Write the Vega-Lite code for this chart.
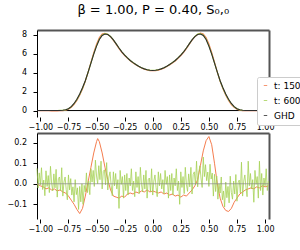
{
"$schema": "https://vega.github.io/schema/vega-lite/v6.json",
"padding": {"left": 7, "top": 4, "right": 0, "bottom": 0},
"title": {"text": "β = 1.00, P = 0.40,  S₀,₀", "fontSize": 13, "font": "DejaVu Sans", "fontWeight": "normal", "color": "black", "anchor": "middle", "offset": 3, "baseline": "alphabetic", "dx": -3},
"config": {
  "font": "DejaVu Sans",
  "view": {"stroke": null},
  "axis": {"labelFont": "DejaVu Sans", "labelFontSize": 8, "labelColor": "black", "tickColor": "black", "tickSize": 4, "domainColor": "black", "grid": false, "title": null, "labelFlush": false, "labelOverlap": false},
  "legend": {"orient": "none", "legendX": 220, "legendY": 47, "symbolType": "stroke", "symbolSize": 12, "symbolStrokeWidth": 1, "labelFontSize": 9, "labelFont": "DejaVu Sans", "labelColor": "black", "padding": 4, "rowPadding": 5, "labelOffset": 4, "strokeColor": "#cccccc", "fillColor": "white", "cornerRadius": 2, "title": null}
},
"spacing": 16,
"bounds": "flush",
"datasets": {
"top": [
{"x":-1.03,"t: 150":0,"t: 600":0,"GHD":0},
{"x":-1.0,"t: 150":-0.01,"t: 600":0.01,"GHD":0},
{"x":-0.975,"t: 150":-0.015,"t: 600":0.01,"GHD":0},
{"x":-0.95,"t: 150":-0.025,"t: 600":0.01,"GHD":0},
{"x":-0.925,"t: 150":-0.02,"t: 600":0.01,"GHD":0},
{"x":-0.9,"t: 150":-0.03,"t: 600":0.01,"GHD":0},
{"x":-0.875,"t: 150":-0.025,"t: 600":0.01,"GHD":0},
{"x":-0.85,"t: 150":-0.035,"t: 600":0.01,"GHD":0},
{"x":-0.825,"t: 150":-0.02,"t: 600":0.02,"GHD":0.01},
{"x":-0.8,"t: 150":-0.01,"t: 600":0.03,"GHD":0.03},
{"x":-0.775,"t: 150":0.035,"t: 600":0.075,"GHD":0.08},
{"x":-0.75,"t: 150":0.14,"t: 600":0.19,"GHD":0.2},
{"x":-0.725,"t: 150":0.34,"t: 600":0.4,"GHD":0.42},
{"x":-0.7,"t: 150":0.65,"t: 600":0.715,"GHD":0.75},
{"x":-0.675,"t: 150":1.075,"t: 600":1.155,"GHD":1.2},
{"x":-0.65,"t: 150":1.605,"t: 600":1.7,"GHD":1.75},
{"x":-0.625,"t: 150":2.28,"t: 600":2.36,"GHD":2.4},
{"x":-0.6,"t: 150":3.09,"t: 600":3.125,"GHD":3.15},
{"x":-0.575,"t: 150":4.06,"t: 600":4.045,"GHD":4.05},
{"x":-0.55,"t: 150":5.08,"t: 600":5.02,"GHD":5.0},
{"x":-0.525,"t: 150":6.1,"t: 600":5.98,"GHD":5.95},
{"x":-0.5,"t: 150":7.005,"t: 600":6.845,"GHD":6.8},
{"x":-0.475,"t: 150":7.705,"t: 600":7.55,"GHD":7.5},
{"x":-0.45,"t: 150":8.07,"t: 600":7.97,"GHD":7.92},
{"x":-0.425,"t: 150":8.16,"t: 600":8.12,"GHD":8.08},
{"x":-0.4,"t: 150":8.04,"t: 600":8.05,"GHD":8.02},
{"x":-0.375,"t: 150":7.77,"t: 600":7.82,"GHD":7.8},
{"x":-0.35,"t: 150":7.39,"t: 600":7.46,"GHD":7.45},
{"x":-0.325,"t: 150":6.965,"t: 600":7.035,"GHD":7.03},
{"x":-0.3,"t: 150":6.53,"t: 600":6.605,"GHD":6.6},
{"x":-0.275,"t: 150":6.14,"t: 600":6.205,"GHD":6.2},
{"x":-0.25,"t: 150":5.795,"t: 600":5.865,"GHD":5.86},
{"x":-0.225,"t: 150":5.5,"t: 600":5.555,"GHD":5.55},
{"x":-0.2,"t: 150":5.235,"t: 600":5.285,"GHD":5.28},
{"x":-0.175,"t: 150":5.01,"t: 600":5.065,"GHD":5.06},
{"x":-0.15,"t: 150":4.82,"t: 600":4.865,"GHD":4.86},
{"x":-0.125,"t: 150":4.635,"t: 600":4.685,"GHD":4.68},
{"x":-0.1,"t: 150":4.485,"t: 600":4.525,"GHD":4.52},
{"x":-0.075,"t: 150":4.36,"t: 600":4.405,"GHD":4.4},
{"x":-0.05,"t: 150":4.28,"t: 600":4.315,"GHD":4.31},
{"x":-0.025,"t: 150":4.21,"t: 600":4.255,"GHD":4.25},
{"x":0,"t: 150":4.195,"t: 600":4.235,"GHD":4.23},
{"x":0.025,"t: 150":4.21,"t: 600":4.255,"GHD":4.25},
{"x":0.05,"t: 150":4.265,"t: 600":4.315,"GHD":4.31},
{"x":0.075,"t: 150":4.36,"t: 600":4.405,"GHD":4.4},
{"x":0.1,"t: 150":4.47,"t: 600":4.525,"GHD":4.52},
{"x":0.125,"t: 150":4.635,"t: 600":4.685,"GHD":4.68},
{"x":0.15,"t: 150":4.805,"t: 600":4.865,"GHD":4.86},
{"x":0.175,"t: 150":5.01,"t: 600":5.065,"GHD":5.06},
{"x":0.2,"t: 150":5.22,"t: 600":5.285,"GHD":5.28},
{"x":0.225,"t: 150":5.495,"t: 600":5.555,"GHD":5.55},
{"x":0.25,"t: 150":5.795,"t: 600":5.865,"GHD":5.86},
{"x":0.275,"t: 150":6.145,"t: 600":6.205,"GHD":6.2},
{"x":0.3,"t: 150":6.54,"t: 600":6.605,"GHD":6.6},
{"x":0.325,"t: 150":6.985,"t: 600":7.04,"GHD":7.03},
{"x":0.35,"t: 150":7.42,"t: 600":7.47,"GHD":7.45},
{"x":0.375,"t: 150":7.79,"t: 600":7.835,"GHD":7.8},
{"x":0.4,"t: 150":8.04,"t: 600":8.065,"GHD":8.02},
{"x":0.425,"t: 150":8.17,"t: 600":8.13,"GHD":8.08},
{"x":0.45,"t: 150":8.08,"t: 600":7.97,"GHD":7.92},
{"x":0.475,"t: 150":7.71,"t: 600":7.55,"GHD":7.5},
{"x":0.5,"t: 150":7.03,"t: 600":6.84,"GHD":6.8},
{"x":0.525,"t: 150":6.14,"t: 600":5.98,"GHD":5.95},
{"x":0.55,"t: 150":5.1,"t: 600":5.01,"GHD":5.0},
{"x":0.575,"t: 150":4.05,"t: 600":4.05,"GHD":4.05},
{"x":0.6,"t: 150":3.08,"t: 600":3.12,"GHD":3.15},
{"x":0.625,"t: 150":2.29,"t: 600":2.36,"GHD":2.4},
{"x":0.65,"t: 150":1.62,"t: 600":1.705,"GHD":1.75},
{"x":0.675,"t: 150":1.065,"t: 600":1.155,"GHD":1.2},
{"x":0.7,"t: 150":0.63,"t: 600":0.715,"GHD":0.75},
{"x":0.725,"t: 150":0.33,"t: 600":0.395,"GHD":0.42},
{"x":0.75,"t: 150":0.13,"t: 600":0.19,"GHD":0.2},
{"x":0.775,"t: 150":0.03,"t: 600":0.075,"GHD":0.08},
{"x":0.8,"t: 150":-0.01,"t: 600":0.03,"GHD":0.03},
{"x":0.825,"t: 150":-0.02,"t: 600":0.01,"GHD":0.01},
{"x":0.85,"t: 150":-0.025,"t: 600":0.005,"GHD":0},
{"x":0.875,"t: 150":-0.02,"t: 600":0.005,"GHD":0},
{"x":0.9,"t: 150":-0.025,"t: 600":0.005,"GHD":0},
{"x":0.925,"t: 150":-0.015,"t: 600":0.005,"GHD":0},
{"x":0.95,"t: 150":-0.02,"t: 600":0.005,"GHD":0},
{"x":0.975,"t: 150":-0.01,"t: 600":0.005,"GHD":0},
{"x":1.0,"t: 150":-0.015,"t: 600":0.005,"GHD":0},
{"x":1.03,"t: 150":-0.01,"t: 600":0.005,"GHD":0}
],
"d150": [
{"x":-1.03,"y":0.0,"s":"t: 150"},{"x":-1.0,"y":-0.01,"s":"t: 150"},{"x":-0.975,"y":-0.015,"s":"t: 150"},{"x":-0.95,"y":-0.025,"s":"t: 150"},{"x":-0.925,"y":-0.02,"s":"t: 150"},{"x":-0.9,"y":-0.03,"s":"t: 150"},{"x":-0.875,"y":-0.025,"s":"t: 150"},{"x":-0.85,"y":-0.035,"s":"t: 150"},{"x":-0.825,"y":-0.03,"s":"t: 150"},{"x":-0.8,"y":-0.04,"s":"t: 150"},{"x":-0.775,"y":-0.045,"s":"t: 150"},{"x":-0.75,"y":-0.06,"s":"t: 150"},{"x":-0.725,"y":-0.08,"s":"t: 150"},{"x":-0.7,"y":-0.1,"s":"t: 150"},{"x":-0.675,"y":-0.125,"s":"t: 150"},{"x":-0.65,"y":-0.145,"s":"t: 150"},{"x":-0.625,"y":-0.12,"s":"t: 150"},{"x":-0.6,"y":-0.06,"s":"t: 150"},{"x":-0.575,"y":0.01,"s":"t: 150"},{"x":-0.55,"y":0.08,"s":"t: 150"},{"x":-0.525,"y":0.15,"s":"t: 150"},{"x":-0.5,"y":0.205,"s":"t: 150"},{"x":-0.49,"y":0.22,"s":"t: 150"},{"x":-0.475,"y":0.205,"s":"t: 150"},{"x":-0.45,"y":0.15,"s":"t: 150"},{"x":-0.425,"y":0.08,"s":"t: 150"},{"x":-0.4,"y":0.02,"s":"t: 150"},{"x":-0.375,"y":-0.03,"s":"t: 150"},{"x":-0.35,"y":-0.06,"s":"t: 150"},{"x":-0.325,"y":-0.065,"s":"t: 150"},{"x":-0.3,"y":-0.07,"s":"t: 150"},{"x":-0.275,"y":-0.06,"s":"t: 150"},{"x":-0.25,"y":-0.065,"s":"t: 150"},{"x":-0.225,"y":-0.05,"s":"t: 150"},{"x":-0.2,"y":-0.045,"s":"t: 150"},{"x":-0.175,"y":-0.05,"s":"t: 150"},{"x":-0.15,"y":-0.04,"s":"t: 150"},{"x":-0.125,"y":-0.045,"s":"t: 150"},{"x":-0.1,"y":-0.035,"s":"t: 150"},{"x":-0.075,"y":-0.04,"s":"t: 150"},{"x":-0.05,"y":-0.03,"s":"t: 150"},{"x":-0.025,"y":-0.04,"s":"t: 150"},{"x":0,"y":-0.035,"s":"t: 150"},{"x":0.025,"y":-0.04,"s":"t: 150"},{"x":0.05,"y":-0.045,"s":"t: 150"},{"x":0.075,"y":-0.04,"s":"t: 150"},{"x":0.1,"y":-0.05,"s":"t: 150"},{"x":0.125,"y":-0.045,"s":"t: 150"},{"x":0.15,"y":-0.055,"s":"t: 150"},{"x":0.175,"y":-0.05,"s":"t: 150"},{"x":0.2,"y":-0.06,"s":"t: 150"},{"x":0.225,"y":-0.055,"s":"t: 150"},{"x":0.25,"y":-0.065,"s":"t: 150"},{"x":0.275,"y":-0.055,"s":"t: 150"},{"x":0.3,"y":-0.06,"s":"t: 150"},{"x":0.325,"y":-0.045,"s":"t: 150"},{"x":0.35,"y":-0.03,"s":"t: 150"},{"x":0.375,"y":-0.01,"s":"t: 150"},{"x":0.4,"y":0.02,"s":"t: 150"},{"x":0.425,"y":0.09,"s":"t: 150"},{"x":0.45,"y":0.16,"s":"t: 150"},{"x":0.475,"y":0.21,"s":"t: 150"},{"x":0.5,"y":0.23,"s":"t: 150"},{"x":0.525,"y":0.19,"s":"t: 150"},{"x":0.55,"y":0.1,"s":"t: 150"},{"x":0.575,"y":0.0,"s":"t: 150"},{"x":0.6,"y":-0.07,"s":"t: 150"},{"x":0.625,"y":-0.11,"s":"t: 150"},{"x":0.65,"y":-0.13,"s":"t: 150"},{"x":0.675,"y":-0.135,"s":"t: 150"},{"x":0.7,"y":-0.12,"s":"t: 150"},{"x":0.725,"y":-0.09,"s":"t: 150"},{"x":0.75,"y":-0.07,"s":"t: 150"},{"x":0.775,"y":-0.05,"s":"t: 150"},{"x":0.8,"y":-0.04,"s":"t: 150"},{"x":0.825,"y":-0.03,"s":"t: 150"},{"x":0.85,"y":-0.025,"s":"t: 150"},{"x":0.875,"y":-0.02,"s":"t: 150"},{"x":0.9,"y":-0.025,"s":"t: 150"},{"x":0.925,"y":-0.015,"s":"t: 150"},{"x":0.95,"y":-0.02,"s":"t: 150"},{"x":0.975,"y":-0.01,"s":"t: 150"},{"x":1.0,"y":-0.015,"s":"t: 150"},{"x":1.03,"y":-0.01,"s":"t: 150"}
],
"d600": [
{"x":-1.03,"y":0.075,"s":"t: 600"},{"x":-1.02,"y":-0.02,"s":"t: 600"},{"x":-1.01,"y":0.053,"s":"t: 600"},{"x":-1.0,"y":-0.005,"s":"t: 600"},{"x":-0.99,"y":0.078,"s":"t: 600"},{"x":-0.98,"y":-0.028,"s":"t: 600"},{"x":-0.97,"y":0.018,"s":"t: 600"},{"x":-0.96,"y":-0.058,"s":"t: 600"},{"x":-0.95,"y":0.063,"s":"t: 600"},{"x":-0.94,"y":-0.013,"s":"t: 600"},
{"x":-0.93,"y":0.04,"s":"t: 600"},{"x":-0.92,"y":-0.043,"s":"t: 600"},{"x":-0.91,"y":0.085,"s":"t: 600"},{"x":-0.9,"y":0.003,"s":"t: 600"},{"x":-0.89,"y":-0.035,"s":"t: 600"},{"x":-0.88,"y":0.048,"s":"t: 600"},{"x":-0.87,"y":-0.02,"s":"t: 600"},{"x":-0.86,"y":0.07,"s":"t: 600"},{"x":-0.85,"y":-0.065,"s":"t: 600"},{"x":-0.84,"y":0.025,"s":"t: 600"},
{"x":-0.83,"y":0.033,"s":"t: 600"},{"x":-0.82,"y":-0.035,"s":"t: 600"},{"x":-0.81,"y":0.078,"s":"t: 600"},{"x":-0.8,"y":-0.06,"s":"t: 600"},{"x":-0.79,"y":0.008,"s":"t: 600"},{"x":-0.78,"y":0.033,"s":"t: 600"},{"x":-0.77,"y":-0.028,"s":"t: 600"},{"x":-0.76,"y":-0.078,"s":"t: 600"},{"x":-0.75,"y":0.043,"s":"t: 600"},{"x":-0.74,"y":-0.03,"s":"t: 600"},
{"x":-0.73,"y":0.025,"s":"t: 600"},{"x":-0.72,"y":-0.055,"s":"t: 600"},{"x":-0.71,"y":-0.015,"s":"t: 600"},{"x":-0.7,"y":-0.088,"s":"t: 600"},{"x":-0.69,"y":0.02,"s":"t: 600"},{"x":-0.68,"y":-0.053,"s":"t: 600"},{"x":-0.67,"y":-0.02,"s":"t: 600"},{"x":-0.66,"y":-0.125,"s":"t: 600"},{"x":-0.65,"y":-0.013,"s":"t: 600"},{"x":-0.64,"y":-0.088,"s":"t: 600"},
{"x":-0.63,"y":0.0,"s":"t: 600"},{"x":-0.62,"y":-0.1,"s":"t: 600"},{"x":-0.61,"y":-0.008,"s":"t: 600"},{"x":-0.6,"y":-0.04,"s":"t: 600"},{"x":-0.59,"y":0.053,"s":"t: 600"},{"x":-0.58,"y":-0.043,"s":"t: 600"},{"x":-0.57,"y":0.013,"s":"t: 600"},{"x":-0.56,"y":-0.053,"s":"t: 600"},{"x":-0.55,"y":0.073,"s":"t: 600"},{"x":-0.54,"y":0.008,"s":"t: 600"},
{"x":-0.53,"y":0.065,"s":"t: 600"},{"x":-0.52,"y":-0.013,"s":"t: 600"},{"x":-0.51,"y":0.115,"s":"t: 600"},{"x":-0.5,"y":0.038,"s":"t: 600"},{"x":-0.49,"y":0.0,"s":"t: 600"},{"x":-0.48,"y":0.088,"s":"t: 600"},{"x":-0.47,"y":0.02,"s":"t: 600"},{"x":-0.46,"y":0.11,"s":"t: 600"},{"x":-0.45,"y":-0.025,"s":"t: 600"},{"x":-0.44,"y":0.06,"s":"t: 600"},
{"x":-0.43,"y":0.068,"s":"t: 600"},{"x":-0.42,"y":-0.005,"s":"t: 600"},{"x":-0.41,"y":0.103,"s":"t: 600"},{"x":-0.4,"y":-0.03,"s":"t: 600"},{"x":-0.39,"y":0.033,"s":"t: 600"},{"x":-0.38,"y":0.058,"s":"t: 600"},{"x":-0.37,"y":-0.008,"s":"t: 600"},{"x":-0.36,"y":-0.058,"s":"t: 600"},{"x":-0.35,"y":0.058,"s":"t: 600"},{"x":-0.34,"y":-0.01,"s":"t: 600"},
{"x":-0.33,"y":0.05,"s":"t: 600"},{"x":-0.32,"y":-0.025,"s":"t: 600"},{"x":-0.31,"y":0.02,"s":"t: 600"},{"x":-0.3,"y":-0.12,"s":"t: 600"},{"x":-0.29,"y":0.065,"s":"t: 600"},{"x":-0.28,"y":-0.003,"s":"t: 600"},{"x":-0.27,"y":0.035,"s":"t: 600"},{"x":-0.26,"y":-0.07,"s":"t: 600"},{"x":-0.25,"y":0.043,"s":"t: 600"},{"x":-0.24,"y":-0.033,"s":"t: 600"},
{"x":-0.23,"y":0.05,"s":"t: 600"},{"x":-0.22,"y":-0.055,"s":"t: 600"},{"x":-0.21,"y":0.028,"s":"t: 600"},{"x":-0.2,"y":-0.01,"s":"t: 600"},{"x":-0.19,"y":0.073,"s":"t: 600"},{"x":-0.18,"y":-0.033,"s":"t: 600"},{"x":-0.17,"y":0.013,"s":"t: 600"},{"x":-0.16,"y":-0.063,"s":"t: 600"},{"x":-0.15,"y":0.058,"s":"t: 600"},{"x":-0.14,"y":-0.018,"s":"t: 600"},
{"x":-0.13,"y":0.035,"s":"t: 600"},{"x":-0.12,"y":-0.048,"s":"t: 600"},{"x":-0.11,"y":0.08,"s":"t: 600"},{"x":-0.1,"y":-0.003,"s":"t: 600"},{"x":-0.09,"y":-0.04,"s":"t: 600"},{"x":-0.08,"y":0.043,"s":"t: 600"},{"x":-0.07,"y":-0.025,"s":"t: 600"},{"x":-0.06,"y":0.065,"s":"t: 600"},{"x":-0.05,"y":-0.07,"s":"t: 600"},{"x":-0.04,"y":0.02,"s":"t: 600"},
{"x":-0.03,"y":0.028,"s":"t: 600"},{"x":-0.02,"y":-0.04,"s":"t: 600"},{"x":-0.01,"y":0.073,"s":"t: 600"},{"x":0.0,"y":-0.055,"s":"t: 600"},{"x":0.01,"y":0.013,"s":"t: 600"},{"x":0.02,"y":0.043,"s":"t: 600"},{"x":0.03,"y":-0.018,"s":"t: 600"},{"x":0.04,"y":-0.063,"s":"t: 600"},{"x":0.05,"y":0.058,"s":"t: 600"},{"x":0.06,"y":-0.01,"s":"t: 600"},
{"x":0.07,"y":0.05,"s":"t: 600"},{"x":0.08,"y":-0.025,"s":"t: 600"},{"x":0.09,"y":0.02,"s":"t: 600"},{"x":0.1,"y":-0.048,"s":"t: 600"},{"x":0.11,"y":0.065,"s":"t: 600"},{"x":0.12,"y":-0.003,"s":"t: 600"},{"x":0.13,"y":0.035,"s":"t: 600"},{"x":0.14,"y":-0.07,"s":"t: 600"},{"x":0.15,"y":0.043,"s":"t: 600"},{"x":0.16,"y":-0.033,"s":"t: 600"},
{"x":0.17,"y":0.05,"s":"t: 600"},{"x":0.18,"y":-0.055,"s":"t: 600"},{"x":0.19,"y":0.028,"s":"t: 600"},{"x":0.2,"y":-0.01,"s":"t: 600"},{"x":0.21,"y":0.073,"s":"t: 600"},{"x":0.22,"y":-0.033,"s":"t: 600"},{"x":0.23,"y":0.013,"s":"t: 600"},{"x":0.24,"y":-0.1,"s":"t: 600"},{"x":0.25,"y":0.058,"s":"t: 600"},{"x":0.26,"y":-0.018,"s":"t: 600"},
{"x":0.27,"y":0.035,"s":"t: 600"},{"x":0.28,"y":-0.048,"s":"t: 600"},{"x":0.29,"y":0.08,"s":"t: 600"},{"x":0.3,"y":-0.003,"s":"t: 600"},{"x":0.31,"y":-0.037,"s":"t: 600"},{"x":0.32,"y":0.048,"s":"t: 600"},{"x":0.33,"y":-0.015,"s":"t: 600"},{"x":0.34,"y":0.08,"s":"t: 600"},{"x":0.35,"y":-0.05,"s":"t: 600"},{"x":0.36,"y":0.045,"s":"t: 600"},
{"x":0.37,"y":0.058,"s":"t: 600"},{"x":0.38,"y":-0.005,"s":"t: 600"},{"x":0.39,"y":0.11,"s":"t: 600"},{"x":0.4,"y":-0.015,"s":"t: 600"},{"x":0.41,"y":0.056,"s":"t: 600"},{"x":0.42,"y":0.088,"s":"t: 600"},{"x":0.43,"y":0.028,"s":"t: 600"},{"x":0.44,"y":-0.018,"s":"t: 600"},{"x":0.45,"y":0.13,"s":"t: 600"},{"x":0.46,"y":0.035,"s":"t: 600"},
{"x":0.47,"y":0.093,"s":"t: 600"},{"x":0.48,"y":0.015,"s":"t: 600"},{"x":0.49,"y":0.057,"s":"t: 600"},{"x":0.5,"y":-0.013,"s":"t: 600"},{"x":0.51,"y":0.095,"s":"t: 600"},{"x":0.52,"y":0.023,"s":"t: 600"},{"x":0.53,"y":0.052,"s":"t: 600"},{"x":0.54,"y":-0.06,"s":"t: 600"},{"x":0.55,"y":0.046,"s":"t: 600"},{"x":0.56,"y":-0.038,"s":"t: 600"},
{"x":0.57,"y":0.037,"s":"t: 600"},{"x":0.58,"y":-0.075,"s":"t: 600"},{"x":0.59,"y":0.0,"s":"t: 600"},{"x":0.6,"y":-0.045,"s":"t: 600"},{"x":0.61,"y":0.033,"s":"t: 600"},{"x":0.62,"y":-0.078,"s":"t: 600"},{"x":0.63,"y":-0.035,"s":"t: 600"},{"x":0.64,"y":-0.113,"s":"t: 600"},{"x":0.65,"y":0.008,"s":"t: 600"},{"x":0.66,"y":-0.068,"s":"t: 600"},
{"x":0.67,"y":-0.013,"s":"t: 600"},{"x":0.68,"y":-0.093,"s":"t: 600"},{"x":0.69,"y":0.037,"s":"t: 600"},{"x":0.7,"y":-0.043,"s":"t: 600"},{"x":0.71,"y":-0.075,"s":"t: 600"},{"x":0.72,"y":0.013,"s":"t: 600"},{"x":0.73,"y":-0.05,"s":"t: 600"},{"x":0.74,"y":0.045,"s":"t: 600"},{"x":0.75,"y":-0.085,"s":"t: 600"},{"x":0.76,"y":0.005,"s":"t: 600"},
{"x":0.77,"y":0.018,"s":"t: 600"},{"x":0.78,"y":-0.045,"s":"t: 600"},{"x":0.79,"y":0.105,"s":"t: 600"},{"x":0.8,"y":-0.06,"s":"t: 600"},{"x":0.81,"y":0.013,"s":"t: 600"},{"x":0.82,"y":0.043,"s":"t: 600"},{"x":0.83,"y":-0.018,"s":"t: 600"},{"x":0.84,"y":-0.063,"s":"t: 600"},{"x":0.85,"y":0.11,"s":"t: 600"},{"x":0.86,"y":-0.01,"s":"t: 600"},
{"x":0.87,"y":0.05,"s":"t: 600"},{"x":0.88,"y":-0.025,"s":"t: 600"},{"x":0.89,"y":0.02,"s":"t: 600"},{"x":0.9,"y":-0.09,"s":"t: 600"},{"x":0.91,"y":0.065,"s":"t: 600"},{"x":0.92,"y":-0.003,"s":"t: 600"},{"x":0.93,"y":0.035,"s":"t: 600"},{"x":0.94,"y":-0.07,"s":"t: 600"},{"x":0.95,"y":0.11,"s":"t: 600"},{"x":0.96,"y":-0.033,"s":"t: 600"},
{"x":0.97,"y":0.05,"s":"t: 600"},{"x":0.98,"y":-0.055,"s":"t: 600"},{"x":0.99,"y":0.028,"s":"t: 600"},{"x":1.0,"y":-0.01,"s":"t: 600"},{"x":1.01,"y":0.073,"s":"t: 600"},{"x":1.02,"y":-0.033,"s":"t: 600"},{"x":1.03,"y":0.013,"s":"t: 600"}
]
},
"vconcat": [
{
  "width": 232, "height": 87,
  "layer": [
    {"data": {"values": [{"y0": 0}]}, "mark": {"type": "rule", "color": "black", "strokeWidth": 1},
     "encoding": {"y": {"field": "y0", "type": "quantitative", "scale": {"domain": [-0.68, 8.5], "nice": false, "zero": false}, "axis": null}}},
    {"data": {"name": "top"}, "transform": [{"fold": ["t: 150", "t: 600", "GHD"], "as": ["s", "v"]}],
     "mark": {"type": "line", "strokeWidth": 1.1},
     "encoding": {
       "x": {"field": "x", "type": "quantitative", "scale": {"domain": [-1.03, 1.035], "nice": false, "zero": false},
             "axis": {"orient": "bottom", "values": [-1, -0.75, -0.5, -0.25, 0, 0.25, 0.5, 0.75, 1], "format": ".2f", "domain": false, "labelPadding": 2}},
       "y": {"field": "v", "type": "quantitative", "scale": {"domain": [-0.68, 8.5], "nice": false, "zero": false},
             "axis": {"orient": "left", "values": [0, 2, 4, 6, 8], "labelPadding": 6.5}},
       "color": {"field": "s", "type": "nominal", "sort": null, "scale": {"domain": ["t: 150", "t: 600", "GHD"], "range": ["#f57d4f", "#a6d256", "#2e2e2e"]}}
     }},
    {"data": {"name": "top"}, "mark": {"type": "line", "opacity": 0},
     "encoding": {
       "x": {"field": "x", "type": "quantitative", "scale": {"domain": [-1.03, 1.035], "nice": false, "zero": false},
             "axis": {"orient": "top", "labels": false, "ticks": false, "domainColor": "#555555", "domainWidth": 2}},
       "y": {"field": "GHD", "type": "quantitative", "scale": {"domain": [-0.68, 8.5], "nice": false, "zero": false},
             "axis": {"orient": "right", "labels": false, "ticks": false, "domainColor": "#555555", "domainWidth": 2}}
     }}
  ],
  "resolve": {"axis": {"x": "independent", "y": "independent"}}
},
{
  "width": 232, "height": 86,
  "layer": [
    {"data": {"name": "d150"}, "mark": {"type": "line", "strokeWidth": 1},
     "encoding": {
       "x": {"field": "x", "type": "quantitative", "scale": {"domain": [-1.03, 1.035], "nice": false, "zero": false},
             "axis": {"orient": "bottom", "values": [-1, -0.75, -0.5, -0.25, 0, 0.25, 0.5, 0.75, 1], "format": ".2f", "domain": false, "labelPadding": 2}},
       "y": {"field": "y", "type": "quantitative", "scale": {"domain": [-0.1716, 0.2472], "nice": false, "zero": false},
             "axis": {"orient": "left", "values": [-0.1, 0, 0.1, 0.2], "format": ".1f", "labelPadding": 6.5}},
       "color": {"field": "s", "type": "nominal", "sort": null, "scale": {"domain": ["t: 150", "t: 600", "GHD"], "range": ["#f57d4f", "#a6d256", "#2e2e2e"]}}
     }},
    {"data": {"name": "d600"}, "mark": {"type": "line", "strokeWidth": 1, "opacity": 0.8},
     "encoding": {
       "x": {"field": "x", "type": "quantitative", "axis": null},
       "y": {"field": "y", "type": "quantitative", "axis": null},
       "color": {"field": "s", "type": "nominal", "sort": null, "scale": {"domain": ["t: 150", "t: 600", "GHD"], "range": ["#f57d4f", "#a6d256", "#2e2e2e"]}}
     }},
    {"data": {"values": [{"y0": 0}]}, "mark": {"type": "rule", "color": "#888888", "strokeWidth": 1.2, "opacity": 0.7},
     "encoding": {"y": {"field": "y0", "type": "quantitative", "axis": null}}},
    {"data": {"name": "d150"}, "mark": {"type": "line", "opacity": 0},
     "encoding": {
       "x": {"field": "x", "type": "quantitative", "axis": {"orient": "top", "labels": false, "ticks": false, "domainColor": "#555555", "domainWidth": 2}},
       "y": {"field": "y", "type": "quantitative", "axis": {"orient": "right", "labels": false, "ticks": false, "domainColor": "#555555", "domainWidth": 2}}
     }}
  ],
  "resolve": {"axis": {"x": "independent", "y": "independent"}}
}
]
}
